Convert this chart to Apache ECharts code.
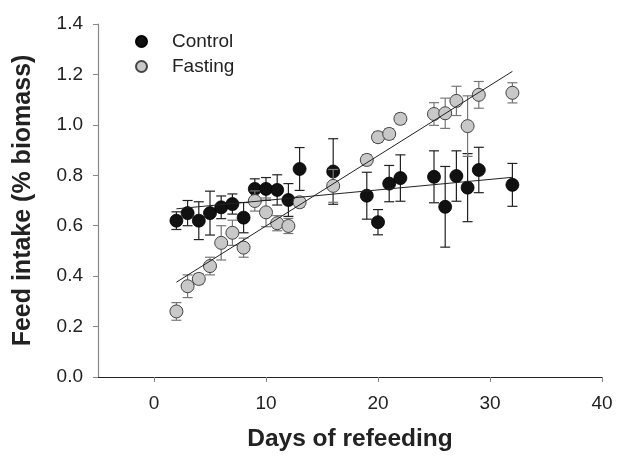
<!DOCTYPE html>
<html>
<head>
<meta charset="utf-8">
<script src="https://cdn.jsdelivr.net/npm/echarts@6/dist/echarts.min.js"></script>
<style>
html,body{margin:0;padding:0;background:#fff;}
#c{width:617px;height:460px;}
</style>
</head>
<body>
<div id="c"></div>
<script>
var days = [2,3,4,5,6,7,8,9,10,11,12,13,16,19,20,21,22,25,26,27,28,29,32];
var controlMean = [0.62,0.65,0.62,0.65,0.673,0.686,0.632,0.746,0.746,0.742,0.702,0.825,0.815,0.719,0.614,0.767,0.789,0.794,0.675,0.797,0.751,0.821,0.762];
var controlErr  = [0.035,0.05,0.075,0.087,0.045,0.04,0.06,0.04,0.045,0.06,0.065,0.085,0.13,0.093,0.05,0.072,0.092,0.103,0.16,0.1,0.135,0.09,0.085];
var fastingMean = [0.26,0.36,0.389,0.44,0.532,0.572,0.513,0.698,0.653,0.61,0.599,0.693,0.758,0.861,0.951,0.964,1.024,1.043,1.046,1.095,0.995,1.119,1.127];
var fastingErr  = [0.035,0.045,0.02,0.035,0.068,0.05,0.038,0.04,0.057,0.03,0.03,0.02,0.065,0.02,0.02,0.02,0.02,0.045,0.06,0.058,0.12,0.053,0.04];
var controlFit = [[2,0.667],[32,0.792]];
var fastingFit = [[2,0.376],[32,1.212]];
var xTicks = [0,10,20,30,40];

function pts(m){ return days.map(function(d,i){ return [d,m[i]]; }); }
function errs(m,e){ return days.map(function(d,i){ return [d,m[i]-e[i],m[i]+e[i]]; }); }
function errRender(color){
  return function(params, api){
    var x = api.value(0);
    var lo = api.coord([x, api.value(1)]);
    var hi = api.coord([x, api.value(2)]);
    var hw = 5;
    var st = {stroke: color, lineWidth: 1.2};
    return {type:'group', children:[
      {type:'line', shape:{x1:lo[0],y1:lo[1],x2:hi[0],y2:hi[1]}, style:st},
      {type:'line', shape:{x1:lo[0]-hw,y1:lo[1],x2:lo[0]+hw,y2:lo[1]}, style:st},
      {type:'line', shape:{x1:hi[0]-hw,y1:hi[1],x2:hi[0]+hw,y2:hi[1]}, style:st}
    ]};
  };
}

var chart = echarts.init(document.getElementById('c'), null, {renderer:'canvas'});
var font = 'Liberation Sans, Arial, sans-serif';
chart.setOption({
  animation:false,
  backgroundColor:'#fff',
  textStyle:{fontFamily:font},
  grid:{left:98, right:15, top:24, bottom:83, containLabel:false},
  legend:{
    left:130, top:27, orient:'vertical', itemGap:6, itemWidth:11, itemHeight:11,
    icon:'circle',
    textStyle:{fontSize:19, color:'#222', fontFamily:font, padding:[0,0,0,20]},
    data:['Control','Fasting']
  },
  xAxis:{
    type:'value', min:-5, max:40,
    axisLine:{show:true, onZero:false, lineStyle:{color:'#222', width:1.2}},
    axisTick:{show:true, customValues:xTicks, length:5, inside:false, lineStyle:{color:'#888'}},
    axisLabel:{customValues:xTicks, fontSize:19, color:'#222', margin:17, fontFamily:font},
    splitLine:{show:false},
    name:'Days of refeeding', nameLocation:'middle', nameGap:50,
    nameTextStyle:{fontSize:24.5, fontWeight:'bold', color:'#222', fontFamily:font}
  },
  yAxis:{
    type:'value', min:0, max:1.4, interval:0.2,
    axisLine:{show:true, onZero:false, lineStyle:{color:'#888', width:1.2}},
    axisTick:{show:true, length:5, lineStyle:{color:'#888'}},
    axisLabel:{fontSize:19, color:'#222', margin:15, fontFamily:font,
      formatter:function(v){ return v.toFixed(1); }},
    splitLine:{show:false},
    name:'Feed intake (% biomass)', nameLocation:'middle', nameGap:62, nameRotate:90,
    nameTextStyle:{fontSize:25, fontWeight:'bold', color:'#222', fontFamily:font}
  },
  series:[
    {type:'custom', name:'ctrlErr', renderItem:errRender('#222'), data:errs(controlMean,controlErr), z:2, silent:true},
    {type:'scatter', name:'Control', data:pts(controlMean), symbolSize:13, z:3,
      itemStyle:{color:'#111', borderColor:'#000', borderWidth:0.8, opacity:1}},
    {type:'custom', name:'fastErr', renderItem:errRender('#777'), data:errs(fastingMean,fastingErr), z:4, silent:true},
    {type:'scatter', name:'Fasting', data:pts(fastingMean), symbolSize:13, z:5,
      itemStyle:{color:'#c8c8c8', borderColor:'#444', borderWidth:1, opacity:1}},
    {type:'line', name:'ctrlFit', data:controlFit, symbol:'none', z:6, silent:true,
      lineStyle:{color:'#222', width:1}},
    {type:'line', name:'fastFit', data:fastingFit, symbol:'none', z:6, silent:true,
      lineStyle:{color:'#222', width:1}}
  ]
});
</script>
</body>
</html>
